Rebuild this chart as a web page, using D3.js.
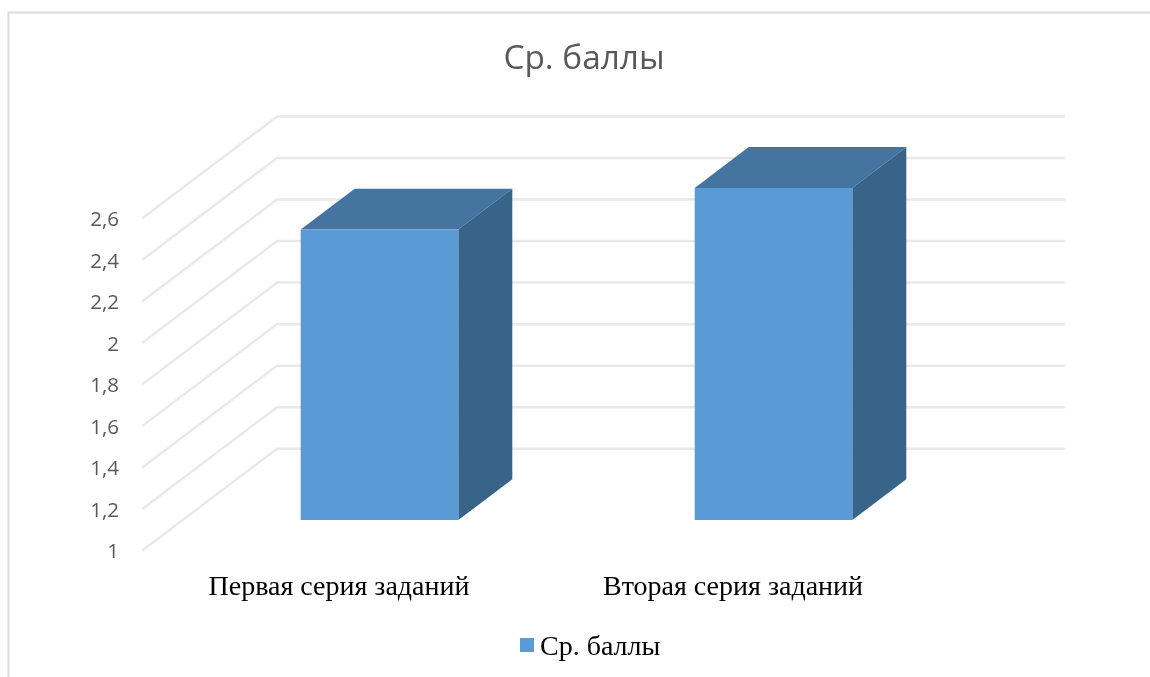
<!DOCTYPE html>
<html lang="ru">
<head>
<meta charset="UTF-8">
<title>Ср. баллы</title>
<script src="https://d3js.org/d3.v7.min.js"></script>
<style>
    html, body { margin: 0; padding: 0; background: #fff; }
    svg { display: block; filter: blur(0.45px); }
    .grid { fill: none; stroke: #e9e9e9; stroke-width: 2.5; }
    .tick text { font-family: "Open Sans", sans-serif; font-size: 20.5px; fill: #595959; }
    .cat, .legend-text { font-family: "Liberation Serif", serif; font-size: 28px; fill: #000; text-anchor: middle; }
    .legend-text { text-anchor: start; }
    .title { font-family: "Open Sans", sans-serif; font-size: 33.4px; fill: #595959; text-anchor: middle; }
</style>
</head>
<body>
<svg width="1150" height="677"></svg>
<script>
    const chartTitle = "Ср. баллы";
    const seriesName = "Ср. баллы";
    const categories = ["Первая серия заданий", "Вторая серия заданий"];
    const scores = [2.4, 2.6];
    const tickValues = [1, 1.2, 1.4, 1.6, 1.8, 2, 2.2, 2.4, 2.6];
    const tickLabels = ["1", "1,2", "1,4", "1,6", "1,8", "2", "2,2", "2,4", "2,6"];

    const svg = d3.select("svg");

    // Scales: front plane plus an oblique depth axis
    const y = d3.scaleLinear().domain([1, 2.6]).range([550.7, 218.5]);
    const x = d3.scaleBand().domain(categories).range([142, 930]).paddingInner(0.6).paddingOuter(0.3);
    const depthX = d3.scaleLinear().domain([0, 1]).range([0, 135]);
    const depthY = d3.scaleLinear().domain([0, 1]).range([0, -102]);
    const barDepth = [0.3, 0.7];

    // point in the 3d box: horizontal px, value, depth fraction
    const pt = (px, v, d) => [px + depthX(d), y(v) + depthY(d)];
    const poly = pts => d3.line()(pts) + "Z";

    // Outer frame, cropped on the right and at the bottom
    svg.append("path")
        .attr("d", d3.line()([[8.5, 680], [8.5, 12.5], [1155, 12.5]]))
        .attr("fill", "none")
        .attr("stroke", "#dcdcdc")
        .attr("stroke-width", 2);

    svg.append("text")
        .attr("class", "title")
        .attr("x", 584)
        .attr("y", 69)
        .text(chartTitle);

    // Gridlines: side wall then back wall
    svg.append("g")
        .selectAll("path")
        .data(tickValues)
        .enter().append("path")
        .attr("class", "grid")
        .attr("d", d => d3.line()([pt(142, d, 0), pt(142, d, 1), pt(930, d, 1)]));

    // Value labels
    const axis = d3.axisLeft(y)
        .tickValues(tickValues)
        .tickFormat((d, i) => tickLabels[i])
        .tickSize(0)
        .tickPadding(0);
    const axisG = svg.append("g")
        .attr("transform", "translate(119,0.5)")
        .call(axis);
    axisG.select(".domain").remove();

    // Bars
    const bars = svg.append("g")
        .selectAll("g")
        .data(categories.map((c, i) => ({ c, v: scores[i] })))
        .enter().append("g");

    bars.append("path")
        .attr("fill", "#44749f")
        .attr("d", d => {
            const l = x(d.c), r = l + x.bandwidth();
            return poly([pt(l, d.v, barDepth[0]), pt(r, d.v, barDepth[0]), pt(r, d.v, barDepth[1]), pt(l, d.v, barDepth[1])]);
        });
    bars.append("path")
        .attr("fill", "#396489")
        .attr("d", d => {
            const r = x(d.c) + x.bandwidth();
            return poly([pt(r, 1, barDepth[0]), pt(r, d.v, barDepth[0]), pt(r, d.v, barDepth[1]), pt(r, 1, barDepth[1])]);
        });
    bars.append("path")
        .attr("fill", "#5b9bd5")
        .attr("d", d => {
            const l = x(d.c), r = l + x.bandwidth();
            return poly([pt(l, 1, barDepth[0]), pt(l, d.v, barDepth[0]), pt(r, d.v, barDepth[0]), pt(r, 1, barDepth[0])]);
        });

    // Category labels
    svg.append("g")
        .selectAll("text")
        .data(categories)
        .enter().append("text")
        .attr("class", "cat")
        .attr("x", d => x(d) + x.bandwidth() / 2)
        .attr("y", 595)
        .text(d => d);

    // Legend
    svg.append("rect")
        .attr("x", 520).attr("y", 638)
        .attr("width", 14).attr("height", 14)
        .attr("fill", "#5b9bd5");
    svg.append("text")
        .attr("class", "legend-text")
        .attr("x", 540)
        .attr("y", 655)
        .text(seriesName);
</script>
</body>
</html>
